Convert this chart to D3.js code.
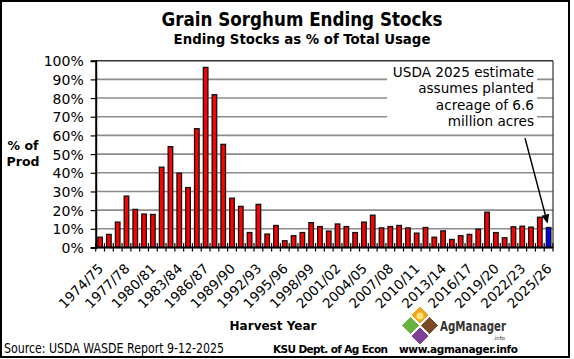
<!DOCTYPE html>
<html>
<head>
<meta charset="utf-8">
<script src="https://cdn.jsdelivr.net/npm/d3@7"></script>
<style>
  body { margin: 0; background: #fff; }
  svg { display: block; }
</style>
</head>
<body>
<svg width="574" height="359"></svg>
<script>
// harvest years, one bar each
var years = ["1974/75","1975/76","1976/77","1977/78","1978/79","1979/80","1980/81","1981/82",
  "1982/83","1983/84","1984/85","1985/86","1986/87","1987/88","1988/89","1989/90","1990/91",
  "1991/92","1992/93","1993/94","1994/95","1995/96","1996/97","1997/98","1998/99","1999/00",
  "2000/01","2001/02","2002/03","2003/04","2004/05","2005/06","2006/07","2007/08","2008/09",
  "2009/10","2010/11","2011/12","2012/13","2013/14","2014/15","2015/16","2016/17","2017/18",
  "2018/19","2019/20","2020/21","2021/22","2022/23","2023/24","2024/25","2025/26"];

// ending stocks as % of total usage
var stocksPct = [5.5, 7, 13.6, 27.5, 20.4, 17.9, 17.7, 43, 54, 39.8, 32.1, 63.6, 96.4,
  81.8, 55.2, 26.4, 22, 8, 23.1, 7.2, 11.8, 3.6, 6.3, 8, 13.3, 11.2, 8.8, 12.6, 11.2,
  8, 13.6, 17.3, 10.5, 11.2, 11.8, 10.5, 7.7, 10.7, 5.5, 8.9, 4.3, 6.3, 7, 9.8, 18.9,
  8, 5.2, 11.1, 11.4, 10.9, 16.2, 10.7];

var xTickLabels = ["1974/75","1977/78","1980/81","1983/84","1986/87","1989/90","1992/93",
  "1995/96","1998/99","2001/02","2004/05","2007/08","2010/11","2013/14","2016/17",
  "2019/20","2022/23","2025/26"];

var yTicks = [0, 10, 20, 30, 40, 50, 60, 70, 80, 90, 100];

var noteLines = ["USDA 2025 estimate", "assumes planted", "acreage of 6.6", "million acres"];

var svg = d3.select("svg");

// outer frame
svg.append("rect")
    .attr("x", 1).attr("y", 1)
    .attr("width", 568).attr("height", 356)
    .attr("fill", "#fff")
    .attr("stroke", "#000")
    .attr("stroke-width", 2);

var plotL = 95.7, plotR = 553, plotT = 60.7, plotB = 247.5;

var x = d3.scaleBand()
    .domain(years)
    .range([plotL, plotR])
    .padding(0);

var y = d3.scaleLinear()
    .domain([0, 100])
    .range([plotB, plotT]);

// gridlines
svg.append("g")
  .selectAll("line")
  .data(yTicks.filter(function(d) { return d > 0; }))
  .enter().append("line")
    .attr("x1", plotL).attr("x2", plotR)
    .attr("y1", function(d) { return y(d); })
    .attr("y2", function(d) { return y(d); })
    .attr("stroke", function(d) { return d == 100 ? "#333" : "#8c8c8c"; })
    .attr("stroke-width", 1.6);

// right border of plot area
svg.append("line")
    .attr("x1", plotR).attr("x2", plotR)
    .attr("y1", plotT).attr("y2", plotB)
    .attr("stroke", "#333").attr("stroke-width", 1.2);

// y axis
var yAxis = d3.axisLeft(y)
    .tickValues(yTicks)
    .tickSize(5)
    .tickFormat(function(d) { return d + "%"; });

var gy = svg.append("g")
    .attr("transform", "translate(" + plotL + ",0)")
    .call(yAxis);
gy.select(".domain").attr("stroke", "#000").attr("stroke-width", 2);
gy.selectAll(".tick line").attr("stroke", "#000").attr("stroke-width", 1.2);
gy.selectAll(".tick text")
    .attr("x", -12)
    .attr("dy", "0.36em")
    .style("font-family", "DejaVu Sans, Verdana, sans-serif")
    .style("font-size", "14px")
    .attr("fill", "#000");

// bars
var bw = x.bandwidth() * 0.52;
svg.append("g")
  .selectAll("rect")
  .data(stocksPct)
  .enter().append("rect")
    .attr("x", function(d, i) { return x(years[i]) + (x.bandwidth() - bw) / 2; })
    .attr("y", function(d) { return y(d); })
    .attr("width", bw)
    .attr("height", function(d) { return y(0) - y(d); })
    .attr("fill", function(d, i) { return i == years.length - 1 ? "#0000ff" : "#ff0000"; })
    .attr("stroke", "#111")
    .attr("stroke-width", 1.3);

// x axis line and crossing ticks at the category edges
svg.append("line")
    .attr("x1", plotL).attr("x2", plotR)
    .attr("y1", plotB).attr("y2", plotB)
    .attr("stroke", "#000").attr("stroke-width", 2);

var edges = years.map(function(d) { return x(d); }).concat([plotR]);
svg.append("g")
  .selectAll("line")
  .data(edges)
  .enter().append("line")
    .attr("x1", function(d) { return d; })
    .attr("x2", function(d) { return d; })
    .attr("y1", plotB - 4.5).attr("y2", plotB + 4)
    .attr("stroke", "#000").attr("stroke-width", 1.2);

// rotated year labels
svg.append("g")
  .selectAll("text")
  .data(xTickLabels)
  .enter().append("text")
    .attr("transform", function(d) {
      return "translate(" + (x(d) + x.bandwidth() / 2 + 4) + "," + (plotB + 22) + ") rotate(-45)";
    })
    .attr("text-anchor", "end")
    .style("font-family", "DejaVu Sans, Verdana, sans-serif")
    .style("font-size", "13.5px")
    .text(function(d) { return d; });

// titles
svg.append("text")
    .attr("x", 302).attr("y", 26)
    .attr("text-anchor", "middle")
    .style("font-family", "DejaVu Sans Condensed, DejaVu Sans, sans-serif")
    .style("font-weight", "bold")
    .style("font-size", "18.6px")
    .text("Grain Sorghum Ending Stocks");

svg.append("text")
    .attr("x", 302).attr("y", 44)
    .attr("text-anchor", "middle")
    .style("font-family", "DejaVu Sans Condensed, DejaVu Sans, sans-serif")
    .style("font-weight", "bold")
    .style("font-size", "14.8px")
    .text("Ending Stocks as % of Total Usage");

// y axis title
var yt = svg.append("text")
    .attr("text-anchor", "middle")
    .style("font-family", "DejaVu Sans, Verdana, sans-serif")
    .style("font-weight", "bold")
    .style("font-size", "12.5px");
yt.append("tspan").attr("x", 23).attr("y", 150).text("% of");
yt.append("tspan").attr("x", 23).attr("y", 166).text("Prod");

// x axis title
svg.append("text")
    .attr("x", 273).attr("y", 330)
    .attr("text-anchor", "middle")
    .style("font-family", "DejaVu Sans, Verdana, sans-serif")
    .style("font-weight", "bold")
    .style("font-size", "12px")
    .text("Harvest Year");

// annotation box
svg.append("rect")
    .attr("x", 387).attr("y", 63)
    .attr("width", 150).attr("height", 70)
    .attr("fill", "#fff");

svg.append("g")
  .selectAll("text")
  .data(noteLines)
  .enter().append("text")
    .attr("x", 534)
    .attr("y", function(d, i) { return 77 + i * 16.4; })
    .attr("text-anchor", "end")
    .style("font-family", "DejaVu Sans, Verdana, sans-serif")
    .style("font-size", "13.6px")
    .text(function(d) { return d; });

// arrow to the 2025/26 bar
var last = years[years.length - 1];
var ax = x(last) + x.bandwidth() / 2 - 1, ay = y(stocksPct[stocksPct.length - 1]) - 4;
var sx = 525, sy = 138;
var ang = Math.atan2(ay - sy, ax - sx);
svg.append("line")
    .attr("x1", sx).attr("y1", sy)
    .attr("x2", ax - 7 * Math.cos(ang)).attr("y2", ay - 7 * Math.sin(ang))
    .attr("stroke", "#000").attr("stroke-width", 1.4);
svg.append("path")
    .attr("d", "M" + ax + "," + ay +
      "L" + (ax - 9 * Math.cos(ang) + 4 * Math.sin(ang)) + "," + (ay - 9 * Math.sin(ang) - 4 * Math.cos(ang)) +
      "L" + (ax - 9 * Math.cos(ang) - 4 * Math.sin(ang)) + "," + (ay - 9 * Math.sin(ang) + 4 * Math.cos(ang)) + "Z")
    .attr("fill", "#000");

// footer
svg.append("text")
    .attr("x", 4).attr("y", 353)
    .style("font-family", "Liberation Sans Narrow, DejaVu Sans Condensed, sans-serif")
    .style("font-size", "14px")
    .attr("textLength", 220)
    .attr("lengthAdjust", "spacingAndGlyphs")
    .text("Source: USDA WASDE Report 9-12-2025");

svg.append("text")
    .attr("x", 273).attr("y", 353)
    .style("font-family", "DejaVu Sans, Verdana, sans-serif")
    .style("font-weight", "bold")
    .style("font-size", "10.5px")
    .attr("textLength", 115)
    .attr("lengthAdjust", "spacing")
    .text("KSU Dept. of Ag Econ");

svg.append("text")
    .attr("x", 399).attr("y", 353)
    .style("font-family", "DejaVu Sans, Verdana, sans-serif")
    .style("font-weight", "bold")
    .style("font-size", "10.5px")
    .attr("textLength", 119)
    .attr("lengthAdjust", "spacing")
    .text("www.agmanager.info");

// agmanager logo
var logo = svg.append("g");
var dia = [
  {cx: 420, cy: 315, c: "#f2a81d"},
  {cx: 410.5, cy: 325.5, c: "#6ab23e"},
  {cx: 429.5, cy: 325.5, c: "#7a4a26"},
  {cx: 420, cy: 336, c: "#7b3f98"}
];
logo.selectAll("path")
  .data(dia)
  .enter().append("path")
    .attr("d", function(d) {
      var r = 9;
      return "M" + d.cx + "," + (d.cy - r) + "L" + (d.cx + r) + "," + d.cy +
        "L" + d.cx + "," + (d.cy + r) + "L" + (d.cx - r) + "," + d.cy + "Z";
    })
    .attr("fill", function(d) { return d.c; })
    .attr("stroke", "#fff")
    .attr("stroke-width", 1);
logo.append("circle")
    .attr("cx", 420).attr("cy", 316).attr("r", 3.5)
    .attr("fill", "#ffe27a");

logo.append("text")
    .attr("x", 440).attr("y", 331)
    .style("font-family", "DejaVu Sans, Verdana, sans-serif")
    .style("font-weight", "bold")
    .style("font-size", "14px")
    .attr("textLength", 66)
    .attr("lengthAdjust", "spacingAndGlyphs")
    .attr("fill", "#333")
    .text("AgManager");
logo.append("text")
    .attr("x", 505).attr("y", 340)
    .attr("text-anchor", "end")
    .style("font-family", "DejaVu Sans, sans-serif")
    .style("font-size", "5.5px")
    .attr("fill", "#333")
    .text(".info");
</script>
</body>
</html>
